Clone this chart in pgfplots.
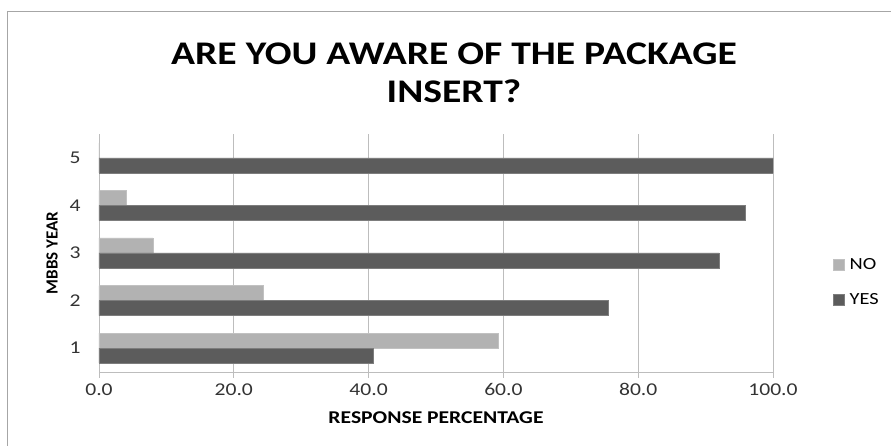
\documentclass[border=0pt]{standalone}
\usepackage{pgfplots}
\pgfplotsset{compat=1.18}
\usepackage{fontspec}
\setmainfont{Carlito}[FakeStretch=1.2]
\newfontfamily\plainfont{Carlito}
\definecolor{yescol}{HTML}{5C5C5C}
\definecolor{nocol}{HTML}{B2B2B2}
\definecolor{gridcol}{HTML}{BDBDBD}
\begin{document}
\begin{tikzpicture}
\path[use as bounding box] (-99pt,-74pt) rectangle (792pt,372pt);
\draw[gray!70, line width=0.8pt] (-92pt,-90pt) rectangle (810pt,361pt);
\begin{axis}[
  at={(0pt,0pt)}, anchor=south west,
  scale only axis, width=674pt, height=238pt,
  xbar, bar width=15pt,
  xmin=0, xmax=100, ymin=0.5, ymax=5.5,
  xtick={0,20,...,100},
  ytick={1,2,3,4,5},
  minor ytick={0.5,1.5,...,5.5},
  axis x line*=bottom, axis y line*=left,
  axis line style={gridcol, line width=0.8pt, -},
  x tick style={gridcol, line width=0.8pt},
  major tick length=6pt,
  ytick style={draw=none},
  minor y tick style={gridcol, line width=0.8pt},
  minor tick length=6pt,
  tick align=outside,
  xmajorgrids, major grid style={gridcol, line width=0.8pt},
  /pgf/number format/assume math mode=true,
  x tick label style={yshift=-2pt, /pgf/number format/fixed, /pgf/number format/fixed zerofill, /pgf/number format/precision=1},
  tick label style={font=\fontsize{18}{20}\selectfont, text=black!80},
  y tick label style={xshift=-9pt},
  xlabel={\bfseries RESPONSE PERCENTAGE},
  ylabel={\plainfont\bfseries MBBS YEAR},
  xlabel style={font=\fontsize{18}{20}\selectfont, at={(axis description cs:0.5,0)}, anchor=center, yshift=-46pt},
  ylabel style={font=\fontsize{17}{19}\selectfont, at={(axis description cs:0,0.5)}, anchor=center, yshift=47pt},
  legend style={at={(1.089,0.378)}, anchor=west, draw=none, fill=none,
    font=\fontsize{17}{19}\selectfont, row sep=20pt, inner sep=0pt,
    nodes={inner sep=1pt}},
  legend cell align=left,
  legend image code/.code={\fill[#1] (0pt,-5.5pt) rectangle (11pt,5.5pt);},
]
\addplot[fill=nocol, draw=nocol!80!white, bar shift=7.5pt] coordinates
  {(59.3,1) (24.4,2) (8.0,3) (4.1,4) (0,5)};
\addlegendentry{\hspace{4pt}NO}
\addplot[fill=yescol, draw=yescol!80!white, bar shift=-7.5pt] coordinates
  {(40.7,1) (75.6,2) (92.0,3) (95.9,4) (100,5)};
\addlegendentry{\hspace{4pt}YES}
\end{axis}
\node[font=\bfseries\fontsize{33}{38}\selectfont, align=center] at (355pt,299pt)
  {ARE YOU AWARE OF THE PACKAGE\\INSERT?};
\end{tikzpicture}
\end{document}
